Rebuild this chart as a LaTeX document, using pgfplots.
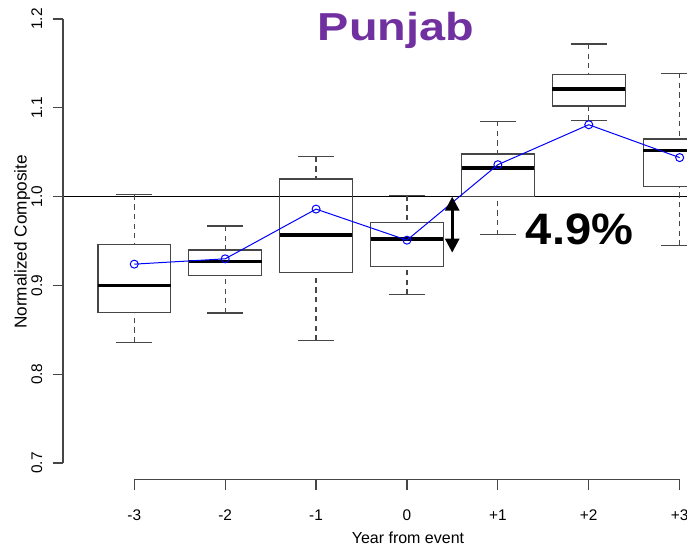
\documentclass[border=0pt]{standalone}
\usepackage{fontspec}
\setmainfont{Liberation Sans}
\usepackage{graphicx}
\usepackage{pgfplots}
\pgfplotsset{compat=1.18}
\usepgfplotslibrary{statistics}
\usetikzlibrary{arrows.meta}
\definecolor{titlepurple}{RGB}{112,48,160}
\definecolor{axgray}{RGB}{70,70,70}
\pgfplotsset{
  boxplot/draw direction=y,
  boxplot/draw/lower whisker/.code={%
    \draw[dash pattern=on 2.6pt off 2.2pt] (boxplot box cs:\pgfplotsboxplotvalue{lower whisker},0.5) -- (boxplot box cs:\pgfplotsboxplotvalue{lower quartile},0.5);
    \draw (boxplot whisker cs:\pgfplotsboxplotvalue{lower whisker},0) -- (boxplot whisker cs:\pgfplotsboxplotvalue{lower whisker},1);
  },
  boxplot/draw/upper whisker/.code={%
    \draw[dash pattern=on 2.6pt off 2.2pt] (boxplot box cs:\pgfplotsboxplotvalue{upper whisker},0.5) -- (boxplot box cs:\pgfplotsboxplotvalue{upper quartile},0.5);
    \draw (boxplot whisker cs:\pgfplotsboxplotvalue{upper whisker},0) -- (boxplot whisker cs:\pgfplotsboxplotvalue{upper whisker},1);
  },
  boxplot/every median/.style={black, line width=1.8pt},
}
\newcommand{\rbox}[6]{\addplot[axgray, line width=0.6pt, boxplot prepared={draw direction=y, draw position=#1, lower whisker=#2, lower quartile=#3, median=#4, upper quartile=#5, upper whisker=#6, box extend=0.8, whisker extend=0.4}] coordinates {};}
\begin{document}
\begin{tikzpicture}
\useasboundingbox (-31.5pt,-35.25pt) rectangle (312pt,239.75pt);
\begin{axis}[
  at={(0,0)}, anchor=south west,
  x=45.45pt, y=444pt,
  xmin=-3.784, xmax=3.08, ymin=0.6815, ymax=1.2215,
  clip mode=individual,
  axis line style={draw=none},
  tick pos=left, tick align=outside,
  major tick length=5.2pt,
  tick style={axgray, line width=0.6pt},
  xtick={-3,-2,-1,0,1,2,3}, xticklabels={-3,-2,-1,0,+1,+2,+3},
  ytick={0.7,0.8,0.9,1.0,1.1,1.2}, yticklabels={0.7,0.8,0.9,1.0,1.1,1.2},
  xticklabel style={font=\fontsize{7.7pt}{9pt}\selectfont, yshift=-6.4pt},
  yticklabel style={font=\fontsize{7.7pt}{9pt}\selectfont, rotate=90, anchor=south, inner ysep=5pt},
]
\addplot[black, line width=0.65pt] coordinates {(-3.784,1) (3.08,1)};
\rbox{-3}{0.836}{0.870}{0.900}{0.946}{1.002}
\rbox{-2}{0.869}{0.911}{0.927}{0.940}{0.967}
\rbox{-1}{0.838}{0.915}{0.957}{1.020}{1.045}
\rbox{0}{0.890}{0.921}{0.952}{0.971}{1.001}
\rbox{1}{0.957}{1.000}{1.032}{1.048}{1.085}
\rbox{2}{1.086}{1.102}{1.121}{1.138}{1.172}
\rbox{3}{0.945}{1.011}{1.052}{1.065}{1.139}
\addplot[blue, line width=0.5pt, mark=o, mark size=2pt] coordinates {(-3,0.924) (-2,0.930) (-1,0.986) (0,0.951) (1,1.036) (2,1.081) (3,1.044)};
\draw[axgray, line width=0.6pt] (axis cs:-3,0.6815) -- (axis cs:3,0.6815);
\draw[axgray, line width=0.6pt] (axis cs:-3.784,0.7) -- (axis cs:-3.784,1.2);
\draw[black, line width=1.4pt, {Triangle[width=7pt,length=7pt]}-{Triangle[width=7pt,length=7pt]}] (axis cs:0.498,1.0) -- (axis cs:0.498,0.937);
\node[anchor=base, font=\bfseries\fontsize{19.5pt}{22pt}\selectfont, text=titlepurple] at (axis cs:-0.121,1.1764) {\scalebox{1.2}[1]{Punjab}};
\node[anchor=base, font=\bfseries\fontsize{22pt}{26pt}\selectfont] at (axis cs:1.898,0.9456) {\scalebox{1.07}[1]{4.9\%}};
\node[rotate=90, anchor=base, font=\fontsize{8.6pt}{10pt}\selectfont] at (axis cs:-4.184,0.949) {Normalized Composite};
\node[anchor=base, font=\fontsize{8pt}{10pt}\selectfont] at (axis cs:0.011,0.6089) {Year from event};
\end{axis}
\end{tikzpicture}
\end{document}
